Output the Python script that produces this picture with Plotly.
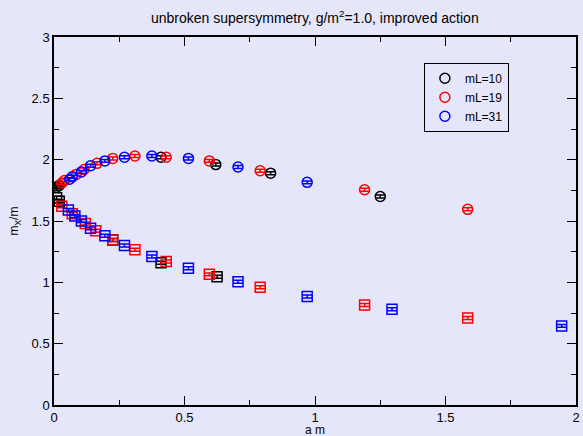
import plotly.graph_objects as go

# mL=10 (black)
x10_up = [0.01, 0.02, 0.41, 0.62, 0.83, 1.25]
y10_up = [1.775, 1.79, 2.02, 1.96, 1.89, 1.70]
x10_lo = [0.01, 0.02, 0.225, 0.41, 0.625]
y10_lo = [1.69, 1.66, 1.345, 1.16, 1.045]

# mL=19 (red)
x19_up = [0.03, 0.04, 0.085, 0.115, 0.165, 0.225, 0.31, 0.43, 0.595, 0.79, 1.19, 1.585]
y19_up = [1.81, 1.83, 1.88, 1.92, 1.97, 2.01, 2.03, 2.02, 1.99, 1.91, 1.755, 1.595]
x19_lo = [0.03, 0.07, 0.12, 0.16, 0.225, 0.31, 0.43, 0.595, 0.79, 1.19, 1.585]
y19_lo = [1.62, 1.56, 1.48, 1.42, 1.345, 1.265, 1.17, 1.065, 0.96, 0.815, 0.71]

# mL=31 (blue)
x31_up = [0.06, 0.07, 0.105, 0.14, 0.195, 0.27, 0.375, 0.515, 0.705, 0.97]
y31_up = [1.84, 1.86, 1.90, 1.95, 1.99, 2.02, 2.03, 2.01, 1.94, 1.815]
x31_lo = [0.055, 0.08, 0.105, 0.14, 0.195, 0.27, 0.375, 0.515, 0.705, 0.97, 1.295, 1.945]
y31_lo = [1.59, 1.54, 1.50, 1.44, 1.38, 1.30, 1.21, 1.115, 1.005, 0.885, 0.78, 0.645]

err = 0.012
series = [
    ("mL=10", "black", x10_up, y10_up, x10_lo, y10_lo),
    ("mL=19", "red", x19_up, y19_up, x19_lo, y19_lo),
    ("mL=31", "blue", x31_up, y31_up, x31_lo, y31_lo),
]

fig = go.Figure()
for name, col, xu, yu, xl, yl in series:
    fig.add_trace(go.Scatter(
        x=xu, y=yu, mode="markers", name=name,
        marker=dict(symbol="circle-open", size=10, color=col, line=dict(width=1.5, color=col)),
        error_y=dict(type="constant", value=err, color=col, thickness=1.5, width=5),
    ))
    fig.add_trace(go.Scatter(
        x=xl, y=yl, mode="markers", name=name, showlegend=False,
        marker=dict(symbol="square-open", size=10, color=col, line=dict(width=1.5, color=col)),
        error_y=dict(type="constant", value=err, color=col, thickness=1.5, width=5),
    ))

bg = "#e6e6fa"
font = dict(family="Liberation Sans, Arial, sans-serif", size=12, color="black")
axis_common = dict(
    showgrid=False, zeroline=False, showline=True, linecolor="black", linewidth=1.5,
    mirror="allticks", ticks="inside", ticklen=9, tickwidth=1, tickcolor="black",
    tickfont=dict(size=13), automargin=False,
)
fig.update_xaxes(range=[0, 2], dtick=0.5, tick0=0,
                 minor=dict(dtick=0.25, ticks="inside", ticklen=5, tickcolor="black"),
                 **axis_common)
fig.update_yaxes(range=[0, 3], dtick=0.5, tick0=0,
                 minor=dict(dtick=0.25, ticks="inside", ticklen=5, tickcolor="black"),
                 title=dict(text="m<sub>X</sub>/m", standoff=10, font=dict(size=12)), **axis_common)

fig.add_annotation(text="a m", xref="paper", yref="paper", x=0.5, y=-0.067,
                   xanchor="center", yanchor="middle", showarrow=False,
                   font=dict(size=12))

fig.update_layout(
    width=583, height=436,
    margin=dict(l=54, r=7, t=37, b=31, autoexpand=False),
    paper_bgcolor=bg, plot_bgcolor=bg,
    font=font,
    title=dict(text="unbroken supersymmetry, g/m<sup>2</sup>=1.0, improved action",
               x=0.54, xanchor="center", y=0.958, yanchor="middle", font=dict(size=14)),
    legend=dict(x=0.79, y=0.93, xanchor="center", yanchor="top",
                bgcolor=bg, bordercolor="black", borderwidth=1,
                font=dict(size=12), itemwidth=30, tracegroupgap=0),
    showlegend=True,
)

fig.write_html(
    "out.html",
    config={"displayModeBar": False},
    post_script="document.body.style.margin='0';document.body.style.overflow='hidden';"
                "document.body.style.background='#e6e6fa';",
)
